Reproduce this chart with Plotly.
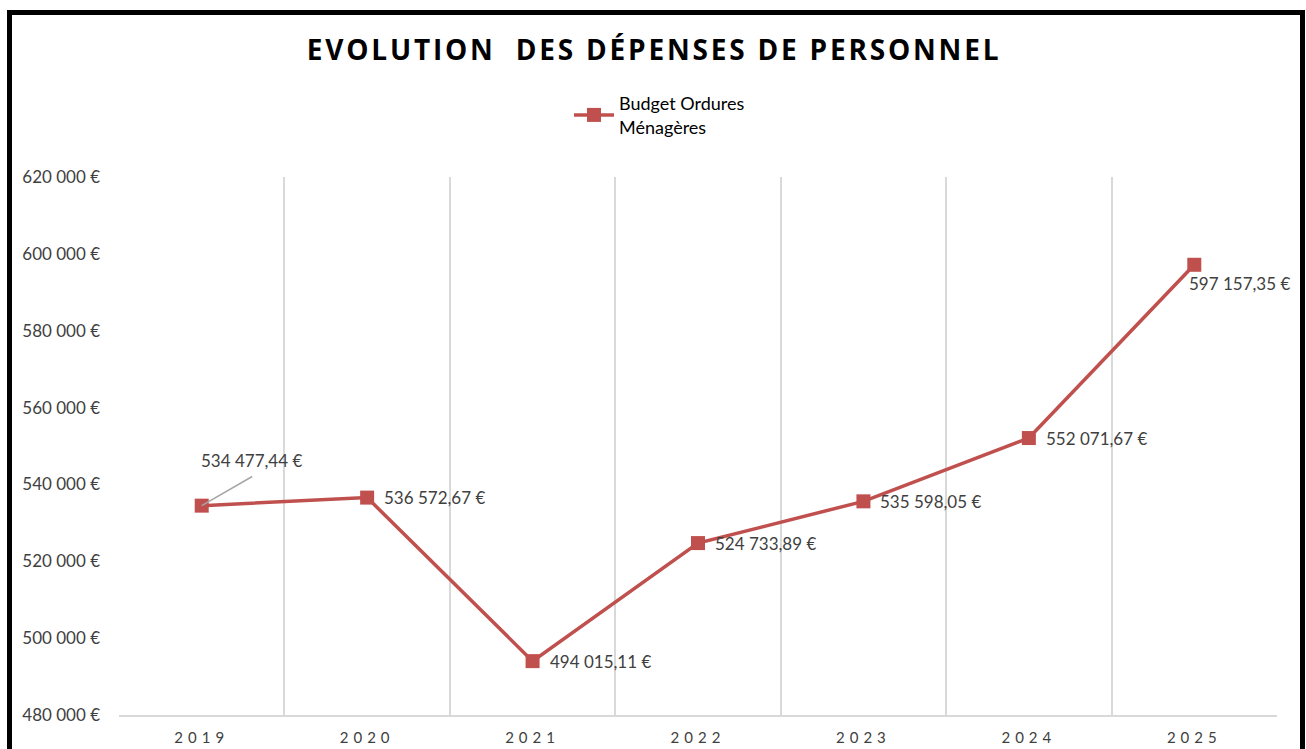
import plotly.graph_objects as go

EURO = "\u20ac"
years = ["2019", "2020", "2021", "2022", "2023", "2024", "2025"]
values = [534477.44, 536572.67, 494015.11, 524733.89, 535598.05, 552071.67, 597157.35]
series_name = "Budget Ordures<br>M\u00e9nag\u00e8res"
title_text = "EVOLUTION  DES D\u00c9PENSES DE PERSONNEL"
y_ticks = [480000, 500000, 520000, 540000, 560000, 580000, 600000, 620000]

RED = "#C0504D"
TXT = "#404040"
FONT = "Lato"

W, H = 1306, 749
L, R, T, B = 119, 29, 177, 34
pw, ph = W - L - R, H - T - B


def px_x(p):
    return (p - L) / pw


def px_y(p):
    return (H - B - p) / ph


def fmt(v, dec=2):
    s = f"{v:,.{dec}f}"
    return s.replace(",", "\u00a0").replace(".", ",") + "\u00a0" + EURO


fig = go.Figure()
fig.add_trace(go.Scatter(
    x=years, y=values, mode="lines+markers", name=series_name,
    line=dict(color=RED, width=3.5),
    marker=dict(symbol="square", size=14, color=RED),
))

lab_font = dict(family=FONT, size=17, color=TXT)
ann = []
for i, (yr, v) in enumerate(zip(years, values)):
    if i == 0:
        # leader line
        ann.append(dict(x=i, y=v, xref="x", yref="y", text="", showarrow=True,
                        arrowhead=0, arrowwidth=1.5, arrowcolor="#A6A6A6", ax=52, ay=-30,
                        standoff=0))
        ann.append(dict(x=i, y=v, xref="x", yref="y", text=fmt(v), showarrow=False,
                        xanchor="center", yanchor="middle", xshift=50, yshift=45,
                        font=lab_font))
    elif i == len(years) - 1:
        ann.append(dict(x=i, y=v, xref="x", yref="y", text=fmt(v), showarrow=False,
                        xanchor="left", yanchor="middle", xshift=-7, yshift=-19,
                        font=lab_font))
    else:
        ann.append(dict(x=i, y=v, xref="x", yref="y", text=fmt(v), showarrow=False,
                        xanchor="left", yanchor="middle", xshift=15,
                        font=lab_font))

fig.update_layout(
    width=W, height=H,
    margin=dict(l=L, r=R, t=T, b=B),
    paper_bgcolor="white", plot_bgcolor="white",
    font=dict(family=FONT, size=16, color=TXT),
    title=dict(text=f'<b><span style="letter-spacing:2.8px">{title_text}</span></b>',
               x=654 / W, xanchor="center", xref="container",
               y=1 - 50 / H, yanchor="middle", yref="container",
               font=dict(family="Open Sans", size=28, color="#000000")),
    showlegend=True,
    legend=dict(x=px_x(569), y=px_y(85), xanchor="left", yanchor="top",
                font=dict(family=FONT, size=18, color="#000000"), bgcolor="rgba(0,0,0,0)",
                tracegroupgap=0, itemwidth=40),
    annotations=ann,
    shapes=[dict(type="rect", xref="paper", yref="paper",
                 x0=px_x(9.5), x1=px_x(1302.5), y0=px_y(770), y1=px_y(12.5),
                 line=dict(color="black", width=5), fillcolor="rgba(0,0,0,0)", layer="above")],
)

fig.update_xaxes(
    type="category", range=[-0.5, 6.5], tickson="boundaries",
    tickvals=years, ticktext=[f'<span style="letter-spacing:5px">{y}</span>' for y in years],
    showgrid=True, gridcolor="#D9D9D9", gridwidth=1.5,
    showline=True, linecolor="#D9D9D9", linewidth=1.5,
    ticks="", tickfont=dict(family=FONT, size=15, color=TXT), ticklabelstandoff=8,
    zeroline=False, automargin=False,
)
fig.update_yaxes(
    range=[480000, 620000], tickvals=y_ticks, ticktext=[fmt(t, 0) for t in y_ticks],
    showgrid=False, zeroline=False, showline=False, ticks="",
    ticklabelstandoff=18, tickfont=dict(family=FONT, size=17, color=TXT), automargin=False,
)

fig.write_html("out.html", config={"displayModeBar": False},
               post_script="document.body.style.margin='0';document.body.style.overflow='hidden';")
